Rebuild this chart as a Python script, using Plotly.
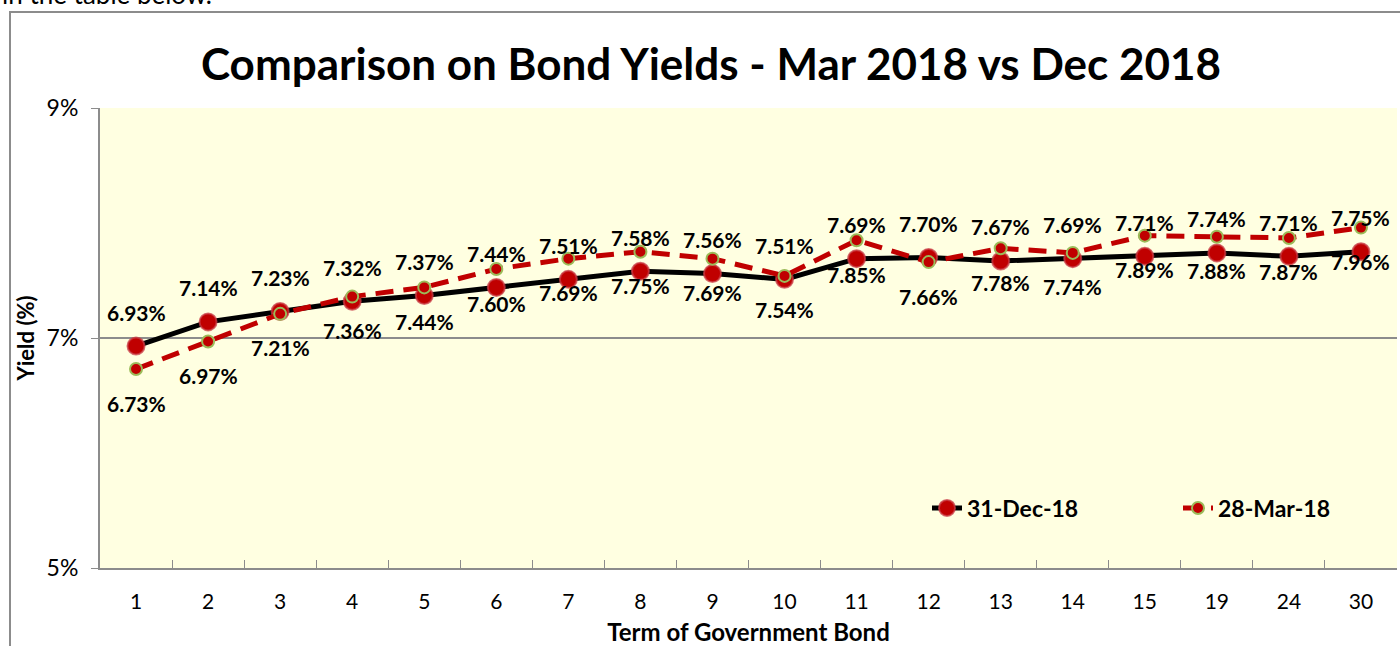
import plotly.graph_objects as go

terms = ["1", "2", "3", "4", "5", "6", "7", "8", "9", "10", "11", "12", "13", "14", "15", "19", "24", "30"]
dec18 = [6.93, 7.14, 7.23, 7.32, 7.37, 7.44, 7.51, 7.58, 7.56, 7.51, 7.69, 7.70, 7.67, 7.69, 7.71, 7.74, 7.71, 7.75]
mar18 = [6.73, 6.97, 7.21, 7.36, 7.44, 7.60, 7.69, 7.75, 7.69, 7.54, 7.85, 7.66, 7.78, 7.74, 7.89, 7.88, 7.87, 7.96]
series_names = ["31-Dec-18", "28-Mar-18"]
y_ticks = [5, 7, 9]

FONT = "Lato"
W, H = 1400, 646
ML, MR, MT, MB = 100, 3, 108, 78
PW, PH = W - ML - MR, H - MT - MB

fig = go.Figure()
fig.add_trace(go.Scatter(
    x=terms, y=dec18, name=series_names[0], mode="lines+markers",
    line=dict(color="#000000", width=5),
    marker=dict(size=17, color="#C00000", line=dict(color="rgba(200,60,70,0.75)", width=2)),
))
fig.add_trace(go.Scatter(
    x=terms, y=mar18, name=series_names[1], mode="lines+markers",
    line=dict(color="#C00000", width=5, dash="18px,10px"),
    marker=dict(size=12, color="#C00000", line=dict(color="#9BBB59", width=2)),
))

ann = []
lab_font = dict(family=FONT, size=21, color="#000000", weight="bold")
for i, v in enumerate(dec18):
    ann.append(dict(x=i, y=v, text=f"{v:.2f}%", showarrow=False, yshift=34, font=lab_font))
for i, v in enumerate(mar18):
    ann.append(dict(x=i, y=v, text=f"{v:.2f}%", showarrow=False, yshift=-34, font=lab_font))
# cut-off text line at the top of the screenshot
ann.append(dict(xref="paper", yref="paper", x=(0 - ML) / PW, y=1 + (MT - 12) / PH,
                xanchor="left", yanchor="bottom", text="in the table below.",
                showarrow=False, font=dict(family=FONT, size=26, color="#000000")))

# outer chart frame
frame = dict(type="rect", xref="paper", yref="paper",
             x0=(10 - ML) / PW, x1=(1410 - ML) / PW,
             y0=-(660 - MT - PH) / PH, y1=1 + (MT - 12) / PH,
             line=dict(color="#8C8C8C", width=2), fillcolor="rgba(0,0,0,0)", layer="below")

fig.update_layout(
    width=W, height=H,
    margin=dict(l=ML, r=MR, t=MT, b=MB, autoexpand=False),
    paper_bgcolor="#FFFFFF",
    plot_bgcolor="#FFFFE1",
    font=dict(family=FONT, color="#000000"),
    title=dict(text="Comparison on Bond Yields - Mar 2018 vs Dec 2018",
               x=711 / W, xanchor="center", y=1 - 65 / H, yanchor="middle",
               font=dict(family=FONT, size=44, color="#000000", weight="bold")),
    showlegend=True,
    legend=dict(orientation="h", x=(927 - ML) / PW, xanchor="left",
                y=(568 - 508) / PH, yanchor="middle",
                bgcolor="rgba(0,0,0,0)", entrywidth=206, entrywidthmode="pixels",
                font=dict(family=FONT, size=23, color="#000000", weight="bold")),
    annotations=ann,
    shapes=[frame],
    xaxis=dict(
        type="category", showline=True, linecolor="#8C8C8C", linewidth=2,
        ticks="inside", tickson="boundaries", ticklen=8, tickcolor="#8C8C8C", tickwidth=1,
        showgrid=False, tickfont=dict(family=FONT, size=21, color="#000000"),
        ticklabelstandoff=14, automargin=False,
        title=dict(text="Term of Government Bond", standoff=14,
                   font=dict(family=FONT, size=24, color="#000000", weight="bold")),
        range=[-0.5, len(terms) - 0.5],
    ),
    yaxis=dict(
        range=[5, 9], tickvals=y_ticks, ticktext=[f"{v}%" for v in y_ticks],
        showline=True, linecolor="#8C8C8C", linewidth=2,
        ticks="outside", ticklen=7, tickcolor="#8C8C8C", automargin=False,
        ticklabelstandoff=8,
        showgrid=True, gridcolor="#8C8C8C", gridwidth=1.5, zeroline=False,
        tickfont=dict(family=FONT, size=23, color="#000000"),
        title=dict(text="Yield (%)", standoff=6,
                   font=dict(family=FONT, size=22, color="#000000", weight="bold")),
    ),
)

fig.write_html("out.html", config={"displayModeBar": False},
               post_script="document.body.style.margin='0';document.body.style.overflow='hidden';")
